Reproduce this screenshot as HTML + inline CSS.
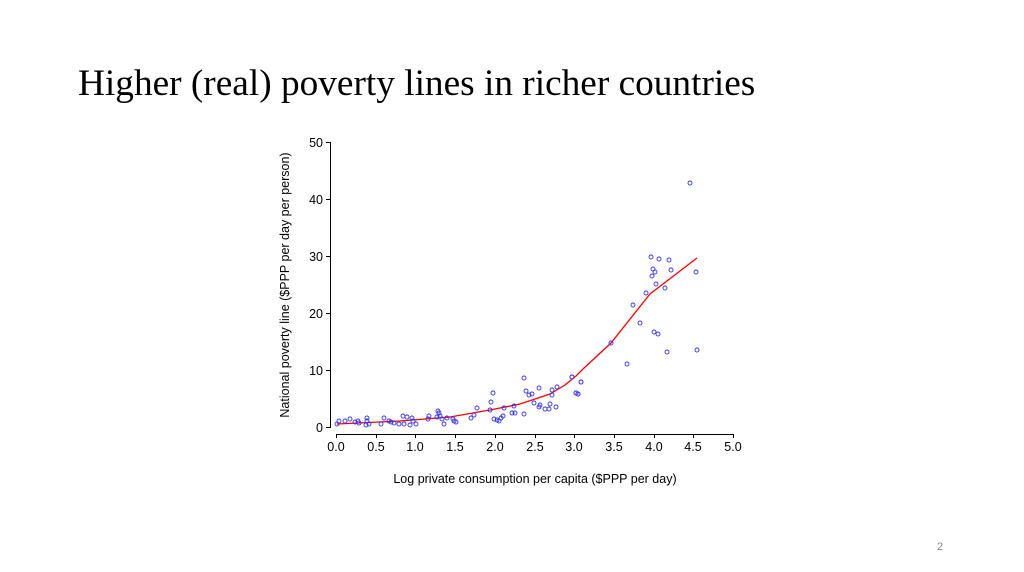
<!DOCTYPE html>
<html><head><style>
body{margin:0;width:1024px;height:572px;background:#fff;overflow:hidden;position:relative}
.t{position:absolute;left:78px;top:62px;font-family:"Liberation Serif",serif;font-size:37.3px;color:#000;white-space:nowrap}
.p{position:absolute;left:937px;top:541px;font-family:"Liberation Sans",sans-serif;font-size:11px;color:#888}
</style></head><body>
<div class="t">Higher (real) poverty lines in richer countries</div>
<div class="p">2</div>
<svg width="1024" height="572" style="position:absolute;left:0;top:0" font-family="Liberation Sans, sans-serif">
<g stroke="#000" stroke-width="1" fill="none">
<line x1="330.5" y1="142" x2="330.5" y2="428"/>
<line x1="336" y1="434.5" x2="733" y2="434.5"/>
<line x1="326" y1="142.5" x2="330" y2="142.5"/><line x1="326" y1="199.5" x2="330" y2="199.5"/><line x1="326" y1="256.5" x2="330" y2="256.5"/><line x1="326" y1="313.5" x2="330" y2="313.5"/><line x1="326" y1="370.5" x2="330" y2="370.5"/><line x1="326" y1="427.5" x2="330" y2="427.5"/>
<line x1="336.5" y1="434" x2="336.5" y2="438"/><line x1="376.5" y1="434" x2="376.5" y2="438"/><line x1="415.5" y1="434" x2="415.5" y2="438"/><line x1="455.5" y1="434" x2="455.5" y2="438"/><line x1="495.5" y1="434" x2="495.5" y2="438"/><line x1="535.5" y1="434" x2="535.5" y2="438"/><line x1="574.5" y1="434" x2="574.5" y2="438"/><line x1="614.5" y1="434" x2="614.5" y2="438"/><line x1="654.5" y1="434" x2="654.5" y2="438"/><line x1="693.5" y1="434" x2="693.5" y2="438"/><line x1="733.5" y1="434" x2="733.5" y2="438"/>
</g>
<g font-size="12.5" fill="#000" text-anchor="end">
<text x="323" y="147">50</text><text x="323" y="204">40</text><text x="323" y="261">30</text><text x="323" y="318">20</text><text x="323" y="375">10</text><text x="323" y="432">0</text>
</g>
<g font-size="12.5" fill="#000" text-anchor="middle">
<text x="336" y="451">0.0</text><text x="376" y="451">0.5</text><text x="415" y="451">1.0</text><text x="455" y="451">1.5</text><text x="495" y="451">2.0</text><text x="535" y="451">2.5</text><text x="574" y="451">3.0</text><text x="614" y="451">3.5</text><text x="654" y="451">4.0</text><text x="693" y="451">4.5</text><text x="733" y="451">5.0</text>
</g>
<text x="535" y="483" font-size="12.5" text-anchor="middle">Log private consumption per capita ($PPP per day)</text>
<text transform="translate(289,285) rotate(-90)" font-size="12.5" text-anchor="middle">National poverty line ($PPP per day per person)</text>
<polyline fill="none" stroke="#f00" stroke-width="1.3" points="337,424 400,421 450,417 490,410 520,404 550,394 565,385 576,376 583,369 611,343 650,294 697,258"/>
<g fill="none" stroke="#33f" stroke-width="0.9" id="pts"></g>
</svg>
<script>
var p=[[690,183],[651,257],[659,259],[669,260],[653,269],[655,272],[671,270],[652,276],[696,272],[656,284],[665,288],[646,293],[633,305],[640,323],[654,332],[658,334],[611,343],[667,352],[697,350],[627,364],[572,377],[581,382],[576,393],[578,394],[337,424],[339,421],[345,421],[350,419],[355,422],[358,421],[359,423],[367,418],[367,421],[366,425],[369,424],[381,424],[384,418],[389,421],[391,422],[394,423],[399,424],[403,416],[404,424],[407,417],[410,425],[412,418],[413,421],[416,424],[428,419],[429,416],[437,417],[438,411],[439,413],[440,416],[442,419],[444,424],[447,418],[453,419],[454,421],[456,422],[471,418],[474,415],[477,408],[490,410],[491,402],[493,393],[494,419],[497,420],[499,421],[501,418],[503,416],[504,408],[512,413],[515,413],[514,406],[524,378],[524,414],[526,391],[529,395],[532,394],[534,403],[539,388],[539,407],[540,405],[545,409],[549,409],[550,404],[552,395],[552,390],[556,407],[557,387],[572,377],[576,393],[578,394],[581,382]];
var g=document.getElementById('pts'),s='';
p.forEach(function(q){s+='<circle cx="'+q[0]+'" cy="'+q[1]+'" r="2"/>';});
g.innerHTML=s;
</script>
</body></html>
